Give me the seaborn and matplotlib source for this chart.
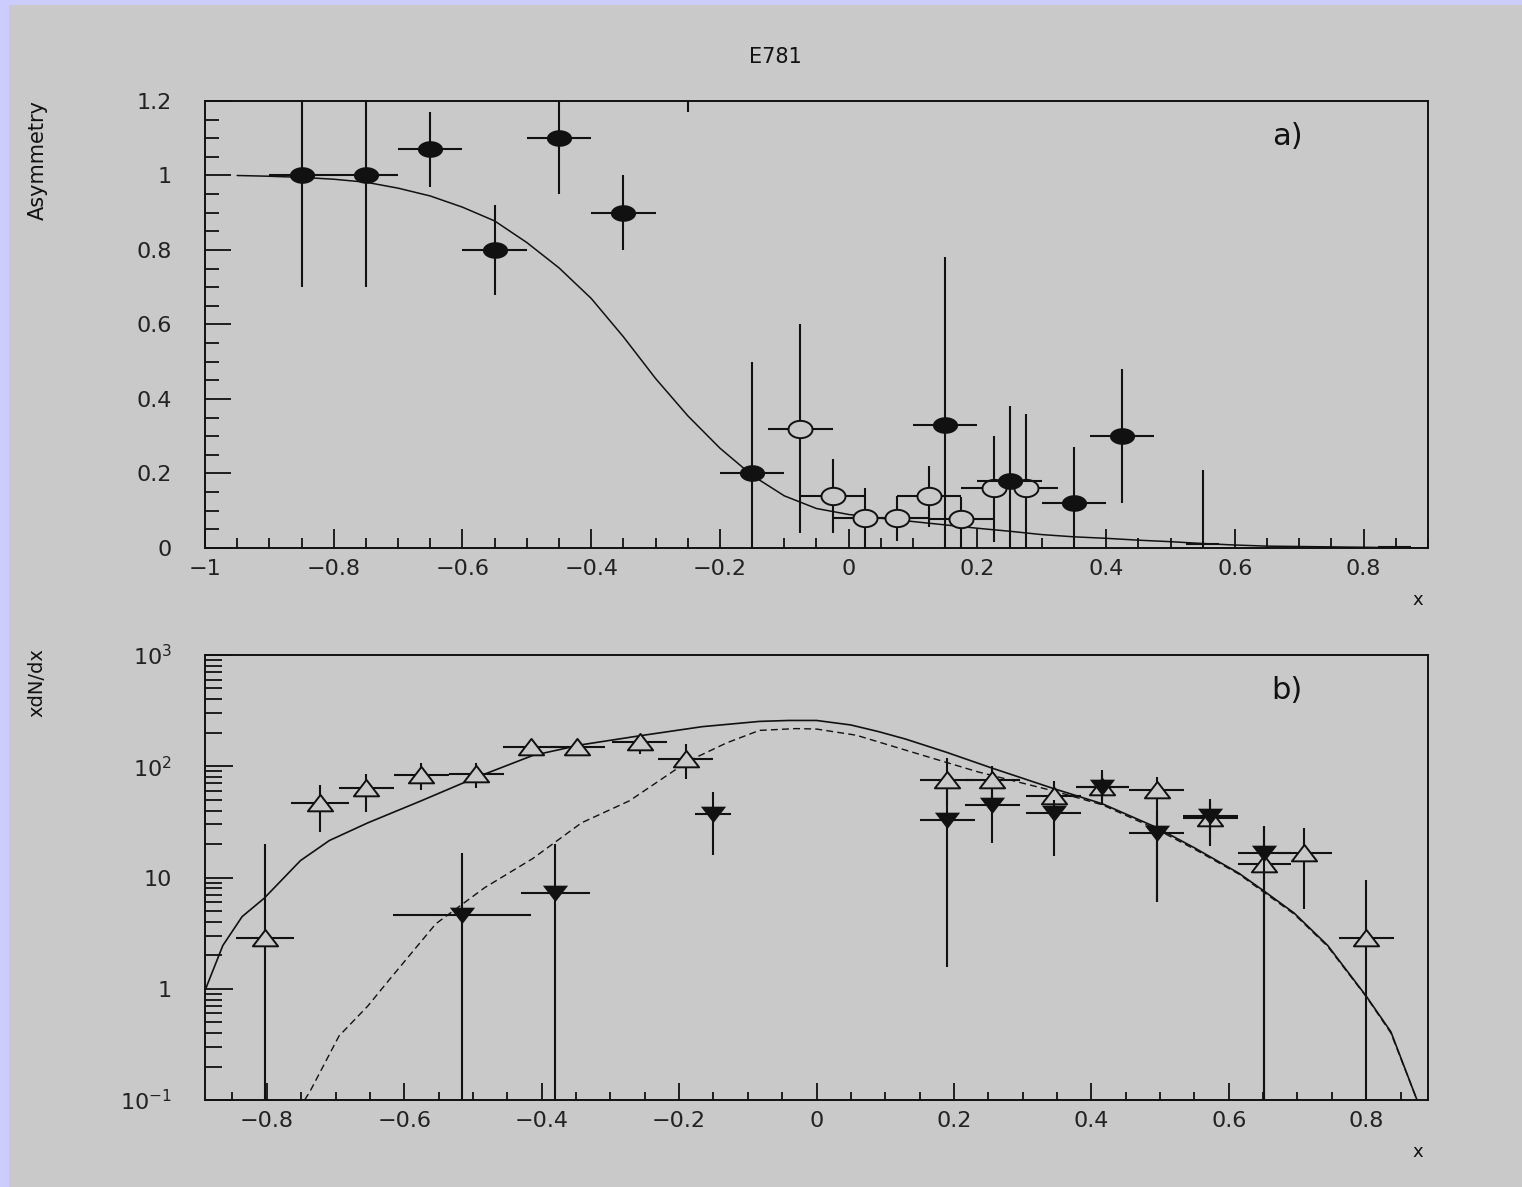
import numpy as np
import pandas as pd
import matplotlib
matplotlib.use("Agg")
import matplotlib.pyplot as plt
from matplotlib.patches import Rectangle
from matplotlib.path import Path
from matplotlib.ticker import MultipleLocator, FixedLocator, FuncFormatter, NullFormatter
import seaborn as sns

# ---------------- panel a) asymmetry ----------------
a_fill_x = [-0.85, -0.75, -0.65, -0.55, -0.45, -0.35, -0.25, -0.15, 0.15, 0.25, 0.35, 0.425]
a_fill_y = [1.00, 1.00, 1.07, 0.80, 1.10, 0.90, 1.45, 0.20, 0.33, 0.18, 0.12, 0.30]
a_fill_lo = [0.70, 0.70, 0.97, 0.68, 0.95, 0.80, 1.17, 0.00, 0.00, 0.00, 0.00, 0.12]
a_fill_hi = [1.30, 1.30, 1.17, 0.92, 1.25, 1.00, 1.75, 0.50, 0.78, 0.38, 0.27, 0.48]
a_fill_dx = [0.05] * 12

# bins sitting on the axis: only their error bars show
a_zero_x = [0.55, 0.848]
a_zero_y = [0.012, 0.004]
a_zero_lo = [0.0, 0.0]
a_zero_hi = [0.21, 0.004]
a_zero_dx = [0.026, 0.025]

a_open_x = [-0.075, -0.025, 0.025, 0.075, 0.125, 0.175, 0.225, 0.275]
a_open_y = [0.32, 0.14, 0.08, 0.08, 0.14, 0.077, 0.16, 0.16]
a_open_lo = [0.04, 0.04, 0.00, 0.02, 0.057, 0.00, 0.017, 0.00]
a_open_hi = [0.60, 0.24, 0.16, 0.14, 0.22, 0.138, 0.30, 0.36]
a_open_dx = [0.05] * 8

a_fit_x = [-0.95, -0.90, -0.85, -0.80, -0.75, -0.70, -0.65, -0.60, -0.55, -0.50,
           -0.45, -0.40, -0.35, -0.30, -0.25, -0.20, -0.15, -0.10, -0.05, 0.00,
           0.05, 0.10, 0.15, 0.20, 0.25, 0.30, 0.35, 0.40, 0.45, 0.50,
           0.55, 0.60, 0.65, 0.70, 0.75, 0.80, 0.85, 0.90]
a_fit_y = [1.000, 0.998, 0.995, 0.990, 0.982, 0.966, 0.945, 0.915, 0.878, 0.820,
           0.752, 0.670, 0.567, 0.455, 0.355, 0.268, 0.195, 0.140, 0.106, 0.090,
           0.080, 0.071, 0.062, 0.053, 0.045, 0.036, 0.030, 0.026, 0.021, 0.017,
           0.012, 0.008, 0.005, 0.004, 0.003, 0.002, 0.001, 0.000]

# ---------------- panel b) xdN/dx ----------------
b_up_x = [-0.803, -0.723, -0.655, -0.575, -0.495, -0.416, -0.348, -0.257, -0.19,
          0.19, 0.256, 0.345, 0.416, 0.495, 0.573, 0.652, 0.71, 0.80]
b_up_y = [2.86, 47, 64, 84, 86, 150, 150, 165, 116,
          76, 75, 54, 65, 61, 34, 13.2, 16.6, 2.86]
b_up_lo = [0.01, 25.9, 39, 61, 64, 130, 130, 130, 76.5,
           45, 50, 40, 50, 6.0, 22, 0.01, 5.2, 0.01]
b_up_hi = [20, 68.4, 86, 107, 107, 175, 175, 195, 157,
           118.6, 100, 74, 85, 80, 48, 29, 27.8, 9.4]
b_up_dx = [0.042, 0.042, 0.04, 0.04, 0.04, 0.04, 0.04, 0.04, 0.04,
           0.04, 0.04, 0.04, 0.039, 0.04, 0.04, 0.039, 0.04, 0.04]

b_dn_x = [-0.516, -0.38, -0.151, 0.19, 0.256, 0.345, 0.416, 0.495, 0.573, 0.652]
b_dn_y = [4.6, 7.25, 37.6, 32.9, 44.6, 38, 65.5, 25.3, 36, 16.6]
b_dn_lo = [0.01, 0.01, 15.8, 1.56, 20.4, 15.5, 45, 6.0, 19, 0.01]
b_dn_hi = [16.5, 20, 58.6, 60, 60, 50, 92.5, 40, 51, 29]
b_dn_dx = [0.1, 0.05, 0.026, 0.04, 0.04, 0.04, 0.039, 0.04, 0.04, 0.039]

b_solid_x = [-0.889, -0.864, -0.836, -0.804, -0.751, -0.709, -0.653, -0.575, -0.494,
             -0.413, -0.342, -0.257, -0.166, -0.083, -0.04, 0.0, 0.05, 0.09, 0.129,
             0.19, 0.256, 0.30, 0.345, 0.416, 0.493, 0.55, 0.615, 0.652, 0.695,
             0.744, 0.80, 0.836, 0.874, 0.889]
b_solid_y = [1.0, 2.45, 4.45, 6.5, 14.2, 21.5, 31, 49, 80,
             125, 156, 188, 227, 253, 258, 258, 235, 205, 176,
             133, 96, 78, 63, 46, 28.5, 18.5, 10.9, 7.5, 4.8,
             2.45, 0.86, 0.41, 0.1, 0.05]

b_dash_x = [-0.745, -0.737, -0.695, -0.653, -0.624, -0.554, -0.483, -0.413, -0.342,
            -0.272, -0.187, -0.131, -0.083, -0.03, 0.0, 0.058, 0.129, 0.235, 0.345,
            0.416, 0.493, 0.55, 0.615, 0.652, 0.695, 0.744, 0.80, 0.836, 0.874]
b_dash_y = [0.1, 0.12, 0.376, 0.7, 1.16, 3.84, 8.1, 14.8, 31,
            49, 111, 162, 210, 218, 216, 190, 140, 89, 60,
            45, 27.5, 18, 10.7, 7.3, 4.7, 2.4, 0.85, 0.4, 0.1]

# ---------------- style ----------------
BG = "#c9c9c9"
FRAME = "#ccccff"
INK = "#111111"

sns.set_style("ticks")
plt.rcParams["font.family"] = ["DejaVu Sans"]
plt.rcParams["axes.unicode_minus"] = True

W, H = 1522, 1187
fig = plt.figure(figsize=(W / 100, H / 100), dpi=100)
fig.patch.set_facecolor(FRAME)
fig.patches.append(Rectangle((9 / W, 0), 1 - 9 / W, 1 - 5 / H, transform=fig.transFigure,
                             facecolor=BG, edgecolor="none", zorder=-5))


def px_axes(left, top, right, bottom):
    return fig.add_axes([left / W, 1 - bottom / H, (right - left) / W, (bottom - top) / H])


def ellipse_marker(aspect):
    t = np.linspace(0, 2 * np.pi, 40)
    return Path(np.column_stack([np.cos(t), aspect * np.sin(t)]), closed=True)


tri_up = Path([(-1, -0.62), (1, -0.62), (0, 0.68), (-1, -0.62)], closed=True)
tri_dn = Path([(-1, 0.62), (1, 0.62), (0, -0.68), (-1, 0.62)], closed=True)
blob = ellipse_marker(0.66)
ring = ellipse_marker(0.72)


def style_frame(ax):
    ax.set_facecolor(BG)
    for s in ax.spines.values():
        s.set_visible(True)
        s.set_color(INK)
        s.set_linewidth(1.4)
    ax.tick_params(which="both", direction="in", top=False, right=False,
                   color=INK, labelcolor="#222222", labelsize=16, width=1.3)


def fmt_num(v, pos):
    s = "%g" % round(v, 6)
    if s == "-0":
        s = "0"
    return s.replace("-", "\u2212")


def draw_bars(ax, x, y, lo, hi, dx, z):
    y = np.asarray(y, float)
    yerr = [y - np.asarray(lo, float), np.asarray(hi, float) - y]
    ax.errorbar(x, y, xerr=dx, yerr=yerr, fmt="none", ecolor=INK,
                elinewidth=1.5, capsize=0, zorder=z)


def draw_points(ax, x, y, lo, hi, dx, marker, filled, size, z):
    draw_bars(ax, x, y, lo, hi, dx, z)
    df = pd.DataFrame({"x": x, "y": y})
    sns.scatterplot(data=df, x="x", y="y", ax=ax, marker=marker, s=size,
                    color=INK if filled else BG, edgecolor=INK,
                    linewidth=0 if filled else 1.4, zorder=z + 1, legend=False)


# ---------------- panel a ----------------
ax1 = px_axes(205, 101, 1428, 548)
style_frame(ax1)
fit_a = pd.DataFrame({"x": a_fit_x, "y": a_fit_y})
sns.lineplot(data=fit_a, x="x", y="y", ax=ax1, color=INK, linewidth=1.1,
             sort=False, zorder=2)
draw_bars(ax1, a_zero_x, a_zero_y, a_zero_lo, a_zero_hi, a_zero_dx, 3)
draw_points(ax1, a_open_x, a_open_y, a_open_lo, a_open_hi, a_open_dx, ring, False, 300, 3)
draw_points(ax1, a_fill_x, a_fill_y, a_fill_lo, a_fill_hi, a_fill_dx, blob, True, 330, 5)
ax1.set_xlim(-1.0, 0.9)
ax1.set_ylim(0, 1.2)
ax1.xaxis.set_major_locator(MultipleLocator(0.2))
ax1.xaxis.set_minor_locator(MultipleLocator(0.05))
ax1.yaxis.set_major_locator(MultipleLocator(0.2))
ax1.yaxis.set_minor_locator(MultipleLocator(0.05))
ax1.xaxis.set_major_formatter(FuncFormatter(fmt_num))
ax1.yaxis.set_major_formatter(FuncFormatter(fmt_num))
ax1.tick_params(axis="x", which="major", length=14, pad=8)
ax1.tick_params(axis="x", which="minor", length=7)
ax1.tick_params(axis="y", which="major", length=19, pad=24)
ax1.tick_params(axis="y", which="minor", length=10)
ax1.set_xlabel("")
ax1.set_ylabel("")
ax1.text(0.885, 0.92, "a)", transform=ax1.transAxes, fontsize=22, color=INK,
         ha="center", va="center")

# ---------------- panel b ----------------
ax2 = px_axes(205, 655, 1428, 1100)
style_frame(ax2)
ax2.set_yscale("log")
solid_b = pd.DataFrame({"x": b_solid_x, "y": b_solid_y})
dash_b = pd.DataFrame({"x": b_dash_x, "y": b_dash_y})
sns.lineplot(data=solid_b, x="x", y="y", ax=ax2, color=INK, linewidth=1.2,
             sort=False, zorder=2)
sns.lineplot(data=dash_b, x="x", y="y", ax=ax2, color=INK, linewidth=1.0,
             sort=False, zorder=2, linestyle=(0, (5, 3)))
draw_points(ax2, b_up_x, b_up_y, b_up_lo, b_up_hi, b_up_dx, tri_up, False, 330, 3)
draw_points(ax2, b_dn_x, b_dn_y, b_dn_lo, b_dn_hi, b_dn_dx, tri_dn, True, 330, 5)
ax2.set_xlim(-0.89, 0.89)
ax2.set_ylim(0.1, 1000)
ax2.xaxis.set_major_locator(MultipleLocator(0.2))
ax2.xaxis.set_minor_locator(MultipleLocator(0.05))
ax2.xaxis.set_major_formatter(FuncFormatter(fmt_num))
decades = [0.1, 1, 10, 100, 1000]
ax2.yaxis.set_major_locator(FixedLocator(decades))
ax2.yaxis.set_minor_locator(FixedLocator(
    [m * d for d in decades[:-1] for m in range(2, 10)]))
ax2.yaxis.set_minor_formatter(NullFormatter())


def log_fmt(v, pos):
    e = int(round(np.log10(v)))
    if e == 0:
        return "1"
    if e == 1:
        return "10"
    return r"$\mathregular{10^{%d}}$" % e


ax2.yaxis.set_major_formatter(FuncFormatter(log_fmt))
ax2.tick_params(axis="x", which="major", length=12, pad=8)
ax2.tick_params(axis="x", which="minor", length=6)
ax2.tick_params(axis="y", which="major", length=20, pad=24)
ax2.tick_params(axis="y", which="minor", length=12)
ax2.set_xlabel("")
ax2.set_ylabel("")
ax2.text(0.885, 0.92, "b)", transform=ax2.transAxes, fontsize=22, color=INK,
         ha="center", va="center")

# ---------------- labels ----------------
fig.text(775 / W, 1 - 57 / H, "E781", fontsize=15, color=INK, ha="center", va="center")
fig.text(38 / W, 1 - 160 / H, "Asymmetry", fontsize=15, color=INK, rotation=90,
         ha="center", va="center")
fig.text(37 / W, 1 - 683 / H, "xdN/dx", fontsize=14, color=INK, rotation=90,
         ha="center", va="center")
fig.text(1418 / W, 1 - 600 / H, "x", fontsize=13, color=INK, ha="center", va="center")
fig.text(1418 / W, 1 - 1152 / H, "x", fontsize=13, color=INK, ha="center", va="center")

fig.savefig("out.png", dpi=100, facecolor=fig.get_facecolor())
